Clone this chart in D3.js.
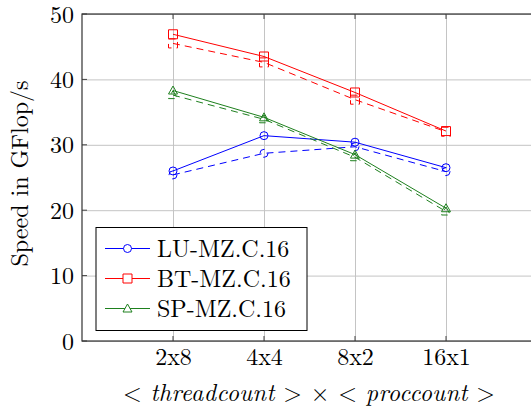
<!DOCTYPE html>
<html>
<head>
<meta charset="utf-8">
<script src="https://cdn.jsdelivr.net/npm/d3@7"></script>
<style>
  body { margin: 0; background: white; }
</style>
</head>
<body>
<div id="container"></div>
<script>
let w = 531;
let h = 409;

// data
let categories = ["2x8", "4x4", "8x2", "16x1"];
let yTicks = [0, 10, 20, 30, 40, 50];

let luValues = [26.0, 31.4, 30.4, 26.5];
let luDashed = [25.4, 28.7, 29.7, 25.9];
let btValues = [46.9, 43.5, 38.0, 32.1];
let btDashed = [45.5, 42.6, 36.9, 32.0];
let spValues = [38.3, 34.2, 28.5, 20.3];
let spDashed = [37.6, 33.9, 28.1, 19.8];

let seriesNames = ["LU-MZ.C.16", "BT-MZ.C.16", "SP-MZ.C.16"];

let fontStack = "'Latin Modern Roman', 'Liberation Serif', serif";

let viz = d3.select("#container")
  .append("svg")
    .attr("width", w)
    .attr("height", h)
    .style("background-color", "white");

let pLeft = 82, pRight = 537, pTop = 14, pBottom = 341;

// categories sit at 1..4 on a 0..5 axis
let xScale = d3.scaleLinear().domain([0, 5]).range([pLeft, pRight]);
let yScale = d3.scaleLinear().domain([0, 50]).range([pBottom, pTop]);

let series = [
  {name: seriesNames[0], values: luValues, dashed: luDashed, color: "#0000ff", marker: "circle"},
  {name: seriesNames[1], values: btValues, dashed: btDashed, color: "#ff0000", marker: "square"},
  {name: seriesNames[2], values: spValues, dashed: spDashed, color: "#1e801e", marker: "triangle"}
];

// grid
let xAxis = d3.axisBottom(xScale)
  .tickValues([1, 2, 3, 4])
  .tickFormat(function(d){ return categories[d - 1]; })
  .tickSize(-(pBottom - pTop));
let xAxisGroup = viz.append("g").attr("class", "xaxis")
  .attr("transform", "translate(0," + pBottom + ")")
  .call(xAxis);
xAxisGroup.select(".domain").remove();
xAxisGroup.selectAll("line").attr("stroke", "#c4c4c4");
xAxisGroup.selectAll("text")
  .attr("y", 24)
  .attr("dy", 0)
  .attr("fill", "black")
  .style("font-family", fontStack)
  .style("font-size", "24px");

let yAxis = d3.axisLeft(yScale)
  .tickValues(yTicks)
  .tickSize(-(pRight - pLeft));
let yAxisGroup = viz.append("g").attr("class", "yaxis")
  .attr("transform", "translate(" + pLeft + ",0)")
  .call(yAxis);
yAxisGroup.select(".domain").remove();
yAxisGroup.selectAll("line").attr("stroke", "#c4c4c4");
yAxisGroup.selectAll("text")
  .attr("x", -8)
  .attr("dy", "0.34em")
  .attr("fill", "black")
  .style("font-family", fontStack)
  .style("font-size", "24px");

// small ticks inside the frame
let tickLen = 5;
let tickColor = "#444";
[1, 2, 3, 4].forEach(function(i){
  let x = xScale(i);
  viz.append("line").attr("x1", x).attr("x2", x).attr("y1", pBottom).attr("y2", pBottom - tickLen).attr("stroke", tickColor);
  viz.append("line").attr("x1", x).attr("x2", x).attr("y1", pTop).attr("y2", pTop + tickLen).attr("stroke", tickColor);
});
yTicks.forEach(function(v){
  let y = yScale(v);
  viz.append("line").attr("x1", pLeft).attr("x2", pLeft + tickLen).attr("y1", y).attr("y2", y).attr("stroke", tickColor);
  viz.append("line").attr("x1", pRight).attr("x2", pRight - tickLen).attr("y1", y).attr("y2", y).attr("stroke", tickColor);
});

// frame
viz.append("rect")
  .attr("x", pLeft).attr("y", pTop)
  .attr("width", pRight - pLeft).attr("height", pBottom - pTop)
  .attr("fill", "none")
  .attr("stroke", "#333")
  .attr("stroke-width", 1.2);

function markerPath(type){
  if(type == "circle"){
    return d3.symbol().type(d3.symbolCircle).size(Math.PI * 16)();
  } else if(type == "square"){
    return "M-4.5,-4.5H4.5V4.5H-4.5Z";
  } else {
    return "M0,-4.5L4.5,3.5H-4.5Z";
  }
}

let line = d3.line()
  .x(function(d, i){ return xScale(i + 1); })
  .y(function(d){ return yScale(d); });

let dashPattern = "7,5";

series.forEach(function(s){
  let g = viz.append("g");
  // dashed companion line
  g.append("path")
    .attr("d", line(s.dashed))
    .attr("fill", "none")
    .attr("stroke", s.color)
    .attr("stroke-width", 1)
    .attr("stroke-dasharray", dashPattern);
  g.selectAll(".dm")
    .data(s.dashed)
    .enter()
    .append("path")
      .attr("class", "dm")
      .attr("d", markerPath(s.marker))
      .attr("transform", function(d, i){ return "translate(" + xScale(i + 1) + "," + yScale(d) + ")"; })
      .attr("fill", "none")
      .attr("stroke", s.color)
      .attr("stroke-dasharray", dashPattern);
  // solid line
  g.append("path")
    .attr("d", line(s.values))
    .attr("fill", "none")
    .attr("stroke", s.color)
    .attr("stroke-width", 1);
  g.selectAll(".sm")
    .data(s.values)
    .enter()
    .append("path")
      .attr("class", "sm")
      .attr("d", markerPath(s.marker))
      .attr("transform", function(d, i){ return "translate(" + xScale(i + 1) + "," + yScale(d) + ")"; })
      .attr("fill", "none")
      .attr("stroke", s.color);
});

// legend
let legend = viz.append("g")
  .attr("transform", "translate(96,227.5)");
legend.append("rect")
  .attr("width", 211)
  .attr("height", 103)
  .attr("fill", "white")
  .attr("stroke", "black")
  .attr("stroke-width", 1);
series.forEach(function(s, i){
  let y = 21 + i * 30;
  legend.append("line")
    .attr("x1", 9).attr("x2", 54)
    .attr("y1", y).attr("y2", y)
    .attr("stroke", s.color);
  legend.append("path")
    .attr("d", markerPath(s.marker))
    .attr("transform", "translate(31.5," + y + ")")
    .attr("fill", "white")
    .attr("stroke", s.color);
  legend.append("text")
    .attr("x", 61)
    .attr("y", y + 8)
    .style("font-family", fontStack)
    .style("font-size", "24px")
    .text(s.name);
});

// axis titles
viz.append("text")
  .attr("transform", "translate(28," + ((pTop + pBottom) / 2 - 4) + ") rotate(-90)")
  .attr("text-anchor", "middle")
  .style("font-family", fontStack)
  .style("font-size", "24px")
  .text("Speed in GFlop/s");

let xTitle = viz.append("text")
  .attr("x", 309)
  .attr("y", 401)
  .attr("text-anchor", "middle")
  .attr("textLength", 372)
  .attr("lengthAdjust", "spacing")
  .style("font-family", fontStack)
  .style("font-size", "24px");
xTitle.append("tspan").text("< ");
xTitle.append("tspan").style("font-style", "italic").text("threadcount");
xTitle.append("tspan").text(" > × < ");
xTitle.append("tspan").style("font-style", "italic").text("proccount");
xTitle.append("tspan").text(" >");
</script>
</body>
</html>
